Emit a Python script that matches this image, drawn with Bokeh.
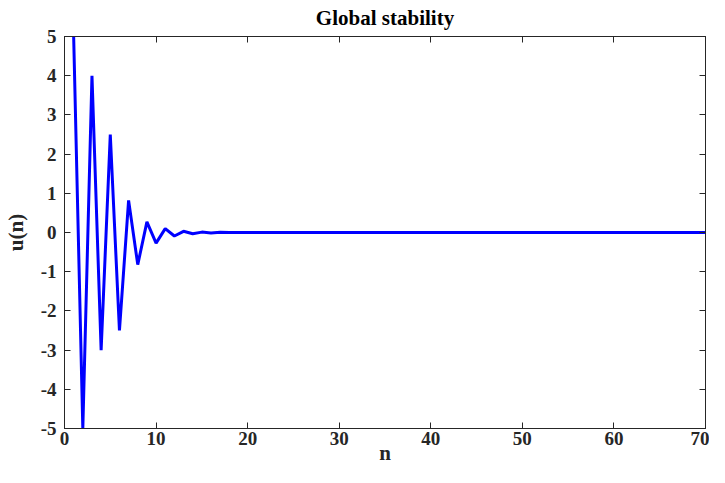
from bokeh.plotting import figure
from bokeh.models import LinearAxis, FixedTicker, Range1d, PrintfTickFormatter, CustomLabelingPolicy
from bokeh.embed import file_html
from bokeh.resources import INLINE

# data
n_values = list(range(1, 71))
u_head = [5, -5, 4, -3, 2.5, -2.5, 0.82, -0.82, 0.27, -0.27, 0.1, -0.09, 0.03, -0.03, 0.01, -0.01, 0.005]
u_values = u_head + [0.0] * (len(n_values) - len(u_head))
x_ticks = [0, 10, 20, 30, 40, 50, 60, 70]
y_ticks = [-5, -4, -3, -2, -1, 0, 1, 2, 3, 4, 5]

FONT = "Liberation Serif"
DARK = "#262626"

p = figure(width=709, height=467, output_backend="svg", toolbar_location=None,
           x_range=Range1d(0, 70), y_range=Range1d(-5, 5),
           min_border_left=59, min_border_right=0, min_border_top=0, min_border_bottom=0)

p.title.text = "Global stability"
p.title.align = "center"
p.title.text_font = FONT
p.title.text_font_style = "bold"
p.title.text_font_size = "21px"
p.title.text_color = "black"
p.title.standoff = 6
p.title.offset = 0

p.line(n_values, u_values, line_color="#0000FF", line_width=3)

p.grid.visible = False
p.outline_line_color = DARK

for ax in [p.xaxis[0], p.yaxis[0]]:
    ax.major_label_text_font = FONT
    ax.major_label_text_font_style = "bold"
    ax.major_label_text_font_size = "19px"
    ax.major_label_text_color = DARK
    ax.axis_label_text_font = FONT
    ax.axis_label_text_font_style = "bold"
    ax.axis_label_text_font_size = "21px"
    ax.axis_label_text_color = DARK
    ax.axis_line_color = DARK
    ax.major_tick_line_color = DARK
    ax.major_tick_in = 6
    ax.major_tick_out = 0
    ax.minor_tick_line_color = None
    ax.formatter = PrintfTickFormatter(format="%d")

p.xaxis[0].ticker = FixedTicker(ticks=x_ticks)
p.yaxis[0].ticker = FixedTicker(ticks=y_ticks)
p.xaxis[0].axis_label = "n"
p.yaxis[0].axis_label = "u(n)"
p.xaxis[0].axis_label_standoff = -7
p.yaxis[0].axis_label_standoff = 10
p.xaxis[0].major_label_standoff = 3
p.yaxis[0].major_label_standoff = 8

no_labels = "try { for (let i = 0; i < indices.size; i++) { indices.unset(i); } } catch (e) {} return indices;"
top = LinearAxis(ticker=FixedTicker(ticks=x_ticks), major_label_policy=CustomLabelingPolicy(code=no_labels),
                 axis_line_color=DARK, major_tick_line_color=DARK, major_tick_in=6, major_tick_out=0,
                 minor_tick_line_color=None, major_label_standoff=0, major_label_text_font_size="1px")
right = LinearAxis(ticker=FixedTicker(ticks=y_ticks), major_label_policy=CustomLabelingPolicy(code=no_labels),
                   axis_line_color=DARK, major_tick_line_color=DARK, major_tick_in=6, major_tick_out=0,
                   minor_tick_line_color=None, major_label_standoff=0, major_label_text_font_size="1px")
p.add_layout(top, "above")
p.add_layout(right, "right")

open("out.html", "w").write(file_html(p, INLINE))
